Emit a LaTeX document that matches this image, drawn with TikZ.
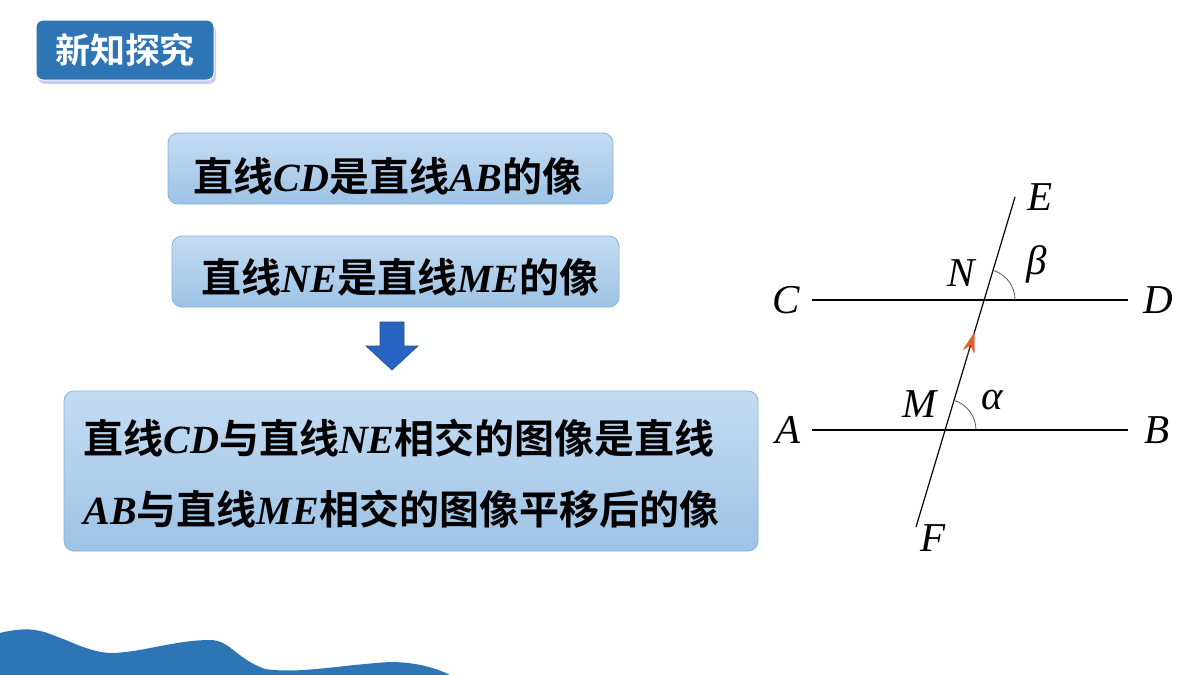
\documentclass[tikz,border=0pt]{standalone}
\usepackage{fontspec}
\setmainfont{Liberation Serif}
\newfontfamily\cjk{Noto Sans CJK SC Bold}
\usetikzlibrary{arrows.meta,shadows,calc}
\definecolor{tblue}{HTML}{2E75B6}
\definecolor{ltop}{HTML}{C5DCF2}
\definecolor{lbot}{HTML}{9DC3E6}
\definecolor{arr}{HTML}{E0602A}
\newcommand{\zh}[1]{{\cjk #1}}
\newcommand{\lt}[1]{{\bfseries\itshape #1}}
\begin{document}
\begin{tikzpicture}[x=1pt,y=-1pt,
  bubble/.style={draw=lbot!80!tblue,line width=0.8pt,rounded corners=10pt,top color=ltop,bottom color=lbot},
  btext/.style={font=\fontsize{40}{40}\selectfont,anchor=west},
  lbl/.style={font=\fontsize{41}{41}\selectfont\itshape},
  gline/.style={line width=1.2pt}]
\useasboundingbox (0,0) rectangle (1200,675);
\fill[white] (0,0) rectangle (1200,675);
% title
\node[fill=tblue,draw=white,line width=1pt,rounded corners=7pt,minimum width=178,minimum height=60,
  drop shadow={shadow xshift=2pt,shadow yshift=-4pt,fill=blue!40,opacity=0.5},
  text=white,font=\cjk\fontsize{35}{35}\selectfont] (title) at (125,50) {新知探究};
% wave
\fill[tblue] (0,633) .. controls (20,628) and (35,628) .. (50,634)
  .. controls (75,643) and (90,652) .. (110,653)
  .. controls (140,653) and (175,640) .. (210,640)
  .. controls (230,640) and (235,658) .. (265,669)
  .. controls (300,674) and (340,665) .. (390,662)
  .. controls (420,662) and (440,670) .. (450,675) -- (0,675) -- cycle;
% boxes
\node[bubble,minimum width=445,minimum height=71] (b1) at (390.5,168.5) {};
\node[btext] (t1) at (190,176) {\zh{直线}\lt{CD}\zh{是直线}\lt{AB}\zh{的像}};
\node[bubble,minimum width=447,minimum height=71] (b2) at (395.5,271.5) {};
\node[btext] (t2) at (198,277) {\zh{直线}\lt{NE}\zh{是直线}\lt{ME}\zh{的像}};
\node[bubble,minimum width=694,minimum height=160] (b3) at (411,471) {};
\node[btext] (t3) at (80,438) {\zh{直线}\lt{CD}\zh{与直线}\lt{NE}\zh{相交的图像是直线}};
\node[btext] (t4) at (80,509) {\lt{AB}\zh{与直线}\lt{ME}\zh{相交的图像平移后的像}};
% down arrow
\fill[tblue!85!blue,draw=tblue!70!black,line width=0.6pt] (380,322) -- (404,322) -- (404,346) -- (418,346) -- (392,370) -- (366,346) -- (380,346) -- cycle;
% geometry
\coordinate (C) at (812,300); \coordinate (D) at (1128,300);
\coordinate (A) at (812,430); \coordinate (B) at (1128,430);
\coordinate (E) at (1015,197); \coordinate (F) at (916,527);
\coordinate (N) at (984.1,300); \coordinate (M) at (945,430);
\draw[gline] (C) -- (D);
\draw[gline] (A) -- (B);
\draw[gline] (F) -- (E);
\draw[line width=0.1pt,-{Stealth[length=20pt,width=12pt]},arr,draw=arr] ($(M)!0.55!(N)$) -- ($(M)!0.75!(N)$);
\draw[gray!70!black,line width=0.8pt] ($(N)+(31,0)$) arc[start angle=0,end angle=-73.3,radius=31];
\draw[gray!70!black,line width=0.8pt] ($(M)+(31,0)$) arc[start angle=0,end angle=-73.3,radius=31];
\node[lbl] (lC) at (786,300) {C};
\node[lbl] (lD) at (1158,300) {D};
\node[lbl] (lA) at (788,430) {A};
\node[lbl] (lB) at (1157,430) {B};
\node[lbl] (lE) at (1040,197) {E};
\node[lbl] (lF) at (933,538) {F};
\node[lbl] (lN) at (961,273) {N};
\node[lbl] (lM) at (920,404) {M};
\node[lbl] (lbeta) at (1037,264) {β};
\node[lbl] (lalpha) at (992,400) {α};
\end{tikzpicture}
\end{document}
